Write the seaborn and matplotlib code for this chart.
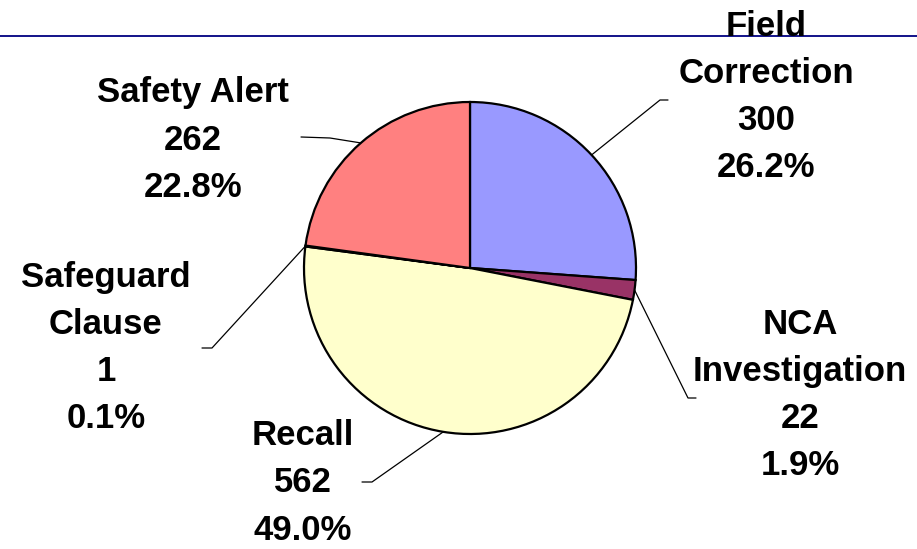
import numpy as np
import matplotlib
matplotlib.use('Agg')
import matplotlib.pyplot as plt
import seaborn as sns

sns.set_theme(style='white')
plt.rcParams['font.family'] = ['Liberation Sans', 'DejaVu Sans']

# Data
categories = ['Field\nCorrection', 'NCA\nInvestigation', 'Recall', 'Safeguard\nClause', 'Safety Alert']
counts = [300, 22, 562, 1, 262]
colors = ['#9999FF', '#993366', '#FFFFCC', '#CCFFFF', '#FF8080']

# label layout (pixel coords, y from top) and leader elbows
label_pos = [(766, 97), (800, 395), (303, 483), (106, 348), (193, 140)]
elbows = [((660, 100), (668, 100)), ((688, 398), (696, 398)), ((372, 482), (362, 482)),
          ((212, 348), (202, 348)), ((330, 138), (301, 137))]

W, H = 917, 549
fig = plt.figure(figsize=(W / 100, H / 100), dpi=100)
ax = fig.add_axes([0, 0, 1, 1])

cx, cy, r = 470, H - 268, 166
wedges, _ = ax.pie(counts, colors=colors, startangle=90, counterclock=False,
                   center=(cx, cy), radius=r, frame=True,
                   wedgeprops=dict(edgecolor='black', linewidth=1.6))
ax.set_xlim(0, W)
ax.set_ylim(0, H)
ax.axis('off')

# navy rule across the top
ax.axhline(H - 36, color='#000080', linewidth=1.3, zorder=1)

total = sum(counts)
for w, cat, n, (lx, ly), (e1, e2) in zip(wedges, categories, counts, label_pos, elbows):
    mid = np.deg2rad((w.theta1 + w.theta2) / 2)
    px, py = cx + r * np.cos(mid), cy + r * np.sin(mid)
    ax.plot([px, e1[0], e2[0]], [py, H - e1[1], H - e2[1]], color='black', linewidth=0.9, zorder=3)
    ax.text(lx, H - ly, f"{cat}\n{n}\n{n / total * 100:.1f}%", ha='center', va='center',
            multialignment='center', fontsize=25, fontweight='bold', linespacing=1.55,
            color='black', zorder=4)

fig.savefig('out.png', dpi=100)
